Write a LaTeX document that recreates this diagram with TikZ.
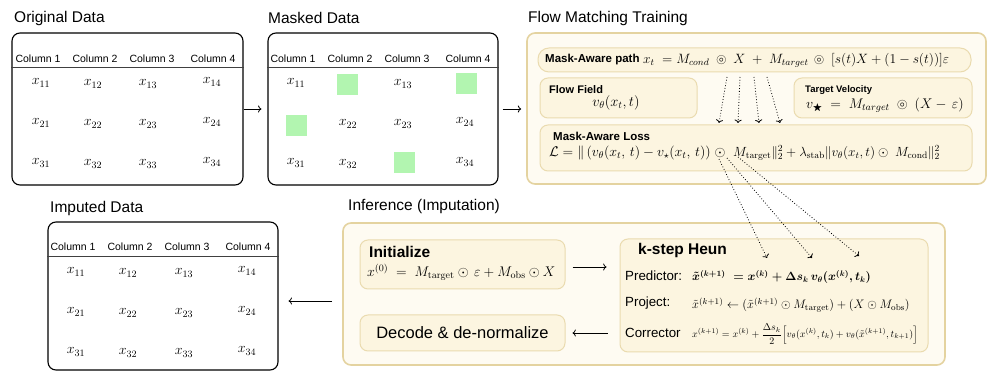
\documentclass[tikz,border=0pt]{standalone}
\usepackage{fix-cm}
\usepackage{amsmath,amssymb}
\usepackage[no-math]{fontspec}
\setmainfont{Liberation Sans}
\usetikzlibrary{arrows.meta,positioning}
\definecolor{panelfill}{RGB}{254,251,242}
\definecolor{paneldraw}{RGB}{228,211,160}
\definecolor{boxfill}{RGB}{252,245,224}
\definecolor{boxdraw}{RGB}{234,219,175}
\definecolor{maskgreen}{RGB}{178,245,176}

\begin{document}
\begin{tikzpicture}[x=1pt,y=-1pt]
\tikzset{
  tablebox/.style={draw,rounded corners=8pt,line width=1.1pt,inner sep=0pt},
  headline/.style={line width=0.9pt,draw=black!75},
  title/.style={anchor=west,inner sep=0pt,font=\fontsize{15.5}{18}\selectfont},
  colhead/.style={inner sep=0pt,font=\fontsize{10.5}{12}\selectfont},
  cell/.style={inner sep=0pt,font=\fontsize{14}{16}\selectfont},
  maskcell/.style={fill=maskgreen,minimum size=21pt,inner sep=0pt},
  panel/.style={draw=paneldraw,fill=panelfill,line width=1.6pt,rounded corners=8pt,inner sep=0pt},
  subbox/.style={draw=boxdraw,fill=boxfill,line width=1pt,rounded corners=8pt,inner sep=0pt},
  boxlabel/.style={anchor=west,inner sep=0pt,font=\bfseries\fontsize{11.5}{13}\selectfont},
  formula/.style={anchor=west,inner sep=0pt,font=\fontsize{14}{16}\selectfont},
  steplabel/.style={anchor=west,inner sep=0pt,font=\fontsize{13.3}{15}\selectfont},
  flowarrow/.style={-To,line width=0.8pt},
  linkarrow/.style={-To,line width=0.8pt,dotted}
}
\useasboundingbox (0,0) rectangle (997,382);

% original data
\node[title] (t_orig) at (14,18) {Original Data};
\node[tablebox,minimum width=231pt,minimum height=152pt] (n_orig) at (127.5,109) {};
\draw[headline] (n_orig.west |- 0,67) -- (n_orig.east |- 0,67);
\node[colhead] (h_orig1) at (38,59) {Column 1};
\node[colhead] (h_orig2) at (95,59) {Column 2};
\node[colhead] (h_orig3) at (152,59) {Column 3};
\node[colhead] (h_orig4) at (213,59) {Column 4};
\node[cell] (c_orig11) at (41,83) {$x_{11}$};
\node[cell] (c_orig12) at (93,84) {$x_{12}$};
\node[cell] (c_orig13) at (148,84) {$x_{13}$};
\node[cell] (c_orig14) at (212,82) {$x_{14}$};
\node[cell] (c_orig21) at (41,123) {$x_{21}$};
\node[cell] (c_orig22) at (93,124) {$x_{22}$};
\node[cell] (c_orig23) at (148,124) {$x_{23}$};
\node[cell] (c_orig24) at (212,122) {$x_{24}$};
\node[cell] (c_orig31) at (41,163) {$x_{31}$};
\node[cell] (c_orig32) at (93,164) {$x_{32}$};
\node[cell] (c_orig33) at (148,164) {$x_{33}$};
\node[cell] (c_orig34) at (212,162) {$x_{34}$};

% masked data
\node[title] (t_mask) at (268,18) {Masked Data};
\node[tablebox,minimum width=230pt,minimum height=152pt] (n_mask) at (383,109) {};
\draw[headline] (n_mask.west |- 0,67) -- (n_mask.east |- 0,67);
\node[colhead] (h_mask1) at (293,59) {Column 1};
\node[colhead] (h_mask2) at (350,59) {Column 2};
\node[colhead] (h_mask3) at (407,59) {Column 3};
\node[colhead] (h_mask4) at (468,59) {Column 4};
\node[cell] (c_mask11) at (296,83) {$x_{11}$};
\node[maskcell] (c_mask12) at (347.5,85) {};
\node[cell] (c_mask13) at (403,84) {$x_{13}$};
\node[maskcell] (c_mask14) at (466,84) {};
\node[maskcell] (c_mask21) at (296.5,125.5) {};
\node[cell] (c_mask22) at (348,124) {$x_{22}$};
\node[cell] (c_mask23) at (403,124) {$x_{23}$};
\node[cell] (c_mask24) at (465,122) {$x_{24}$};
\node[cell] (c_mask31) at (296,163) {$x_{31}$};
\node[cell] (c_mask32) at (348,164) {$x_{32}$};
\node[maskcell] (c_mask33) at (404.5,162.5) {};
\node[cell] (c_mask34) at (465,162) {$x_{34}$};

% flow matching training
\node[title] (t_flow) at (528,18) {Flow Matching Training};
\node[panel,minimum width=459pt,minimum height=151pt] (n_flow) at (756.5,108.5) {};
\node[subbox,rounded corners=11pt,minimum width=433pt,minimum height=24pt] (n_path) at (754.5,60) {};
\node[boxlabel] (l_path) at (545,60) {Mask-Aware path};
\node[formula,font=\fontsize{13.5}{15}\selectfont] (f_path) at (643,60)
  {$x_t \;= M_{cond}\;\circledcirc\; X \;+\; M_{target}\, \circledcirc\; [s(t)X + (1 - s(t))]\varepsilon$};
\node[subbox,minimum width=157pt,minimum height=40pt] (n_field) at (618.5,98) {};
\node[boxlabel,font=\bfseries\fontsize{11}{13}\selectfont] (l_field) at (549,90) {Flow Field};
\node[formula,anchor=center,font=\fontsize{14.5}{16}\selectfont] (f_field) at (616,103) {$v_\theta(x_t,t)$};
\node[subbox,minimum width=178pt,minimum height=40pt] (n_target) at (883,98) {};
\node[boxlabel,font=\bfseries\fontsize{9.5}{11}\selectfont] (l_target) at (805,90) {Target Velocity};
\node[formula] (f_target) at (806,105) {$v_{\bigstar} \;=\; M_{target}\;\circledcirc\;(X -\,\varepsilon)$};
\node[subbox,minimum width=432pt,minimum height=46pt] (n_loss) at (756,148) {};
\node[boxlabel] (l_loss) at (553,136) {Mask-Aware Loss};
\node[formula] (f_lossa) at (549,153)
  {$\mathcal{L} = \|\,(v_\theta(x_t,\,t) - v_\star(x_t,\,t))\;\odot$};
\node[formula,font=\fontsize{13.3}{15}\selectfont] (f_lossb) at (733,153)
  {$M_{\mathrm{target}}\|_2^2 + \lambda_{\mathrm{stab}}\|v_\theta(x_t,t) \odot\; M_{\mathrm{cond}}\|_2^2$};

% inference
\node[title] (t_infer) at (348,206) {Inference (Imputation)};
\node[panel,minimum width=602pt,minimum height=142pt] (n_infer) at (644,294) {};
\node[subbox,minimum width=205pt,minimum height=49pt] (n_init) at (462.5,264.5) {};
\node[anchor=west,inner sep=0pt,font=\bfseries\fontsize{15.5}{18}\selectfont] (l_init) at (369,252) {Initialize};
\node[formula] (f_init) at (367,272) {$x^{(0)} \;=\; M_{\mathrm{target}} \odot\, \varepsilon + M_{\mathrm{obs}} \odot X$};
\node[subbox,minimum width=205pt,minimum height=36pt,font=\fontsize{16.5}{18}\selectfont] (n_decode) at (462.5,333) {Decode \& de-normalize};
\node[subbox,minimum width=308pt,minimum height=113pt] (n_heun) at (774,295.5) {};
\node[anchor=west,inner sep=0pt,font=\bfseries\fontsize{15.5}{18}\selectfont] (l_heun) at (638,250) {k-step Heun};
\node[steplabel] (l_pred) at (625,276) {Predictor:};
\node[formula,font=\fontsize{12}{14}\selectfont\boldmath] (f_pred) at (692,277)
  {$\tilde{x}^{(k+1)} \;= x^{(k)} + \Delta s_k\, v_\theta(x^{(k)}, t_k)$};
\node[steplabel] (l_proj) at (625,303) {Project:};
\node[formula,font=\fontsize{12.3}{14}\selectfont] (f_proj) at (692,305)
  {$\tilde{x}^{(k+1)} \leftarrow (\tilde{x}^{(k+1)} \odot M_{\mathrm{target}}) + (X \odot M_{\mathrm{obs}})$};
\node[steplabel] (l_corr) at (625,333) {Corrector};
\node[formula,font=\fontsize{10}{12}\selectfont] (f_corr) at (692,334)
  {$x^{(k+1)} = x^{(k)} + \dfrac{\Delta s_k}{2}\Bigl[v_\theta(x^{(k)},t_k) + v_\theta(\tilde{x}^{(k+1)},t_{k+1})\Bigr]$};

% imputed data
\node[title] (t_impt) at (50,208) {Imputed Data};
\node[tablebox,minimum width=230pt,minimum height=148pt] (n_impt) at (163,296) {};
\draw[headline] (n_impt.west |- 0,256) -- (n_impt.east |- 0,256);
\node[colhead] (h_impt1) at (73,247) {Column 1};
\node[colhead] (h_impt2) at (130,247) {Column 2};
\node[colhead] (h_impt3) at (187,247) {Column 3};
\node[colhead] (h_impt4) at (248,247) {Column 4};
\node[cell] (c_impt11) at (76,272) {$x_{11}$};
\node[cell] (c_impt12) at (128,273) {$x_{12}$};
\node[cell] (c_impt13) at (184,273) {$x_{13}$};
\node[cell] (c_impt14) at (247,271) {$x_{14}$};
\node[cell] (c_impt21) at (76,312) {$x_{21}$};
\node[cell] (c_impt22) at (128,313) {$x_{22}$};
\node[cell] (c_impt23) at (184,313) {$x_{23}$};
\node[cell] (c_impt24) at (247,311) {$x_{24}$};
\node[cell] (c_impt31) at (76,352) {$x_{31}$};
\node[cell] (c_impt32) at (128,353) {$x_{32}$};
\node[cell] (c_impt33) at (184,353) {$x_{33}$};
\node[cell] (c_impt34) at (247,351) {$x_{34}$};

% dotted links
\coordinate (p_a) at (727,77);
\coordinate (p_b) at (740,77);
\coordinate (p_c) at (754,77);
\coordinate (p_d) at (767,77);
\coordinate (q_a) at (719,123);
\coordinate (q_b) at (738,123);
\coordinate (q_c) at (759,123);
\coordinate (q_d) at (780,123);
\draw[linkarrow] (p_a) -- (q_a);
\draw[linkarrow] (p_b) -- (q_b);
\draw[linkarrow] (p_c) -- (q_c);
\draw[linkarrow] (p_d) -- (q_d);
\coordinate (r_a) at (719,159);
\coordinate (r_b) at (727,158);
\coordinate (r_c) at (738,157);
\coordinate (s_a) at (767,258);
\coordinate (s_b) at (812,258);
\coordinate (s_c) at (859,256);
\draw[linkarrow] (r_a) -- (s_a);
\draw[linkarrow] (r_b) -- (s_b);
\draw[linkarrow] (r_c) -- (s_c);

% main flow
\draw[flowarrow,shorten <=0pt,shorten >=6pt] (n_orig.east) -- (n_mask.west);
\draw[flowarrow,shorten <=4pt,shorten >=5pt] (n_mask.east) -- (n_flow.west |- n_mask.east);
\draw[flowarrow,shorten <=7pt,shorten >=13pt] ([yshift=-2.5pt]n_init.east) -- ([yshift=-2.5pt]n_heun.west |- n_init.east);
\draw[flowarrow,shorten <=12pt,shorten >=7pt] (n_heun.west |- n_decode.east) -- (n_decode.east);
\draw[flowarrow,shorten <=10pt,shorten >=10pt] ([yshift=-7pt]n_infer.west) -- ([yshift=-5pt]n_impt.east);
\end{tikzpicture}
\end{document}
